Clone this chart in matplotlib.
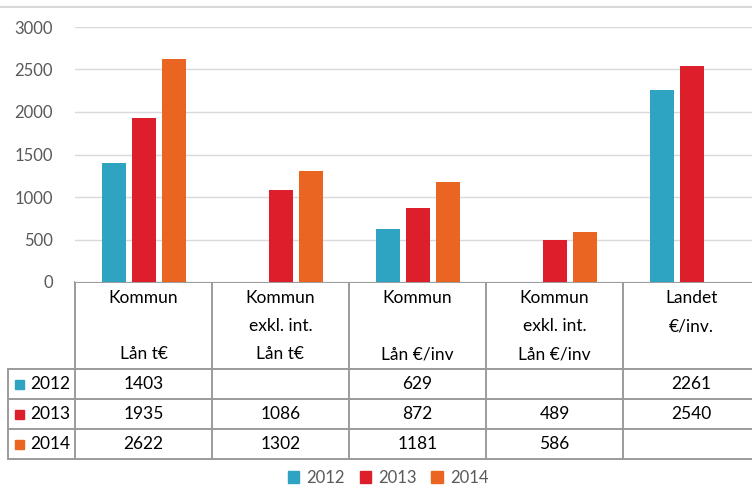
import numpy as np
import matplotlib.pyplot as plt
from matplotlib.patches import Patch
from matplotlib.lines import Line2D

plt.rcParams['font.family'] = ['Lato', 'DejaVu Sans']

# --- Datos ---------------------------------------------------------------
categories = ['Kommun\n\nLån t€', 'Kommun\nexkl. int.\nLån t€', 'Kommun\n\nLån €/inv',
              'Kommun\nexkl. int.\nLån €/inv', 'Landet\n€/inv.\n']
years = ['2012', '2013', '2014']
v2012 = [1403, np.nan, 629, np.nan, 2261]
v2013 = [1935, 1086, 872, 489, 2540]
v2014 = [2622, 1302, 1181, 586, np.nan]
series = [v2012, v2013, v2014]
colors = ['#2ea3c2', '#dc1f2b', '#eb6522']
yticks = [0, 500, 1000, 1500, 2000, 2500, 3000]

W, H = 752, 488
fig = plt.figure(figsize=(W / 100, H / 100), dpi=100)

# pixel layout
x0, colw, ncol = 75, 137, len(categories)
y_zero, y_top = 282, 27
ax = fig.add_axes([x0 / W, 1 - y_zero / H, colw * ncol / W, (y_zero - y_top) / H])

x = np.arange(ncol)
bw, off = 24 / colw, 30 / colw
for i, (vals, c) in enumerate(zip(series, colors)):
    ax.bar(x + (i - 1) * off, vals, width=bw, color=c, zorder=3)

ax.set_xlim(-0.5, ncol - 0.5)
ax.set_ylim(0, 3000)
ax.set_yticks(yticks)
ax.set_xticks([])
ax.yaxis.grid(True, color='#d9d9d9', lw=1, zorder=0)
for s in ['top', 'right', 'left', 'bottom']:
    ax.spines[s].set_visible(False)
ax.tick_params(axis='y', length=0, pad=16, labelsize=12, labelcolor='#595959')

# --- Tabla de datos ---------------------------------------------------------
tax = fig.add_axes([0, 0, 1, 1], zorder=-1)
tax.set_xlim(0, W)
tax.set_ylim(H, 0)
tax.axis('off')

lc, lw = '#9b9b9b', 1.4
row_y = [369, 399, 429, 459]
xl = 8
xr = x0 + colw * ncol
# horizontales
tax.plot([x0, xr], [y_zero, y_zero], color=lc, lw=lw)
for yy in row_y:
    tax.plot([xl, xr], [yy, yy], color=lc, lw=lw)
# verticales
tax.plot([xl, xl], [row_y[0], row_y[-1]], color=lc, lw=lw)
for k in range(ncol):
    xx = x0 + k * colw
    tax.plot([xx, xx], [y_zero, row_y[-1]], color=lc, lw=lw)

# encabezados
for k, cat in enumerate(categories):
    cx = x0 + (k + 0.5) * colw
    for j, line in enumerate(cat.split('\n')):
        tax.text(cx, 298 + 28 * j, line, ha='center', va='center', fontsize=12.5, color='#000000')

# filas
for i, (yr, vals, c) in enumerate(zip(years, series, colors)):
    cy = (row_y[i] + row_y[i + 1]) / 2
    tax.add_patch(plt.Rectangle((15, cy - 4.5), 9, 9, color=c))
    tax.text(30, cy, yr, ha='left', va='center', fontsize=12.5)
    for k, v in enumerate(vals):
        if not np.isnan(v):
            tax.text(x0 + (k + 0.5) * colw, cy, f'{int(v)}', ha='center', va='center', fontsize=12.5)

# linea superior del area
fig.add_artist(Line2D([0, 1], [1 - 7 / H, 1 - 7 / H], color='#d9d9d9', lw=1.5))

# leyenda
handles = [Patch(color=c, label=y) for y, c in zip(years, colors)]
fig.legend(handles=handles, loc='center', bbox_to_anchor=(388 / W, 10 / H), ncol=3, frameon=False,
           fontsize=12, labelcolor='#595959', handlelength=0.7, handleheight=0.7,
           handletextpad=0.4, columnspacing=0.9)

fig.savefig('out.png', dpi=100)
